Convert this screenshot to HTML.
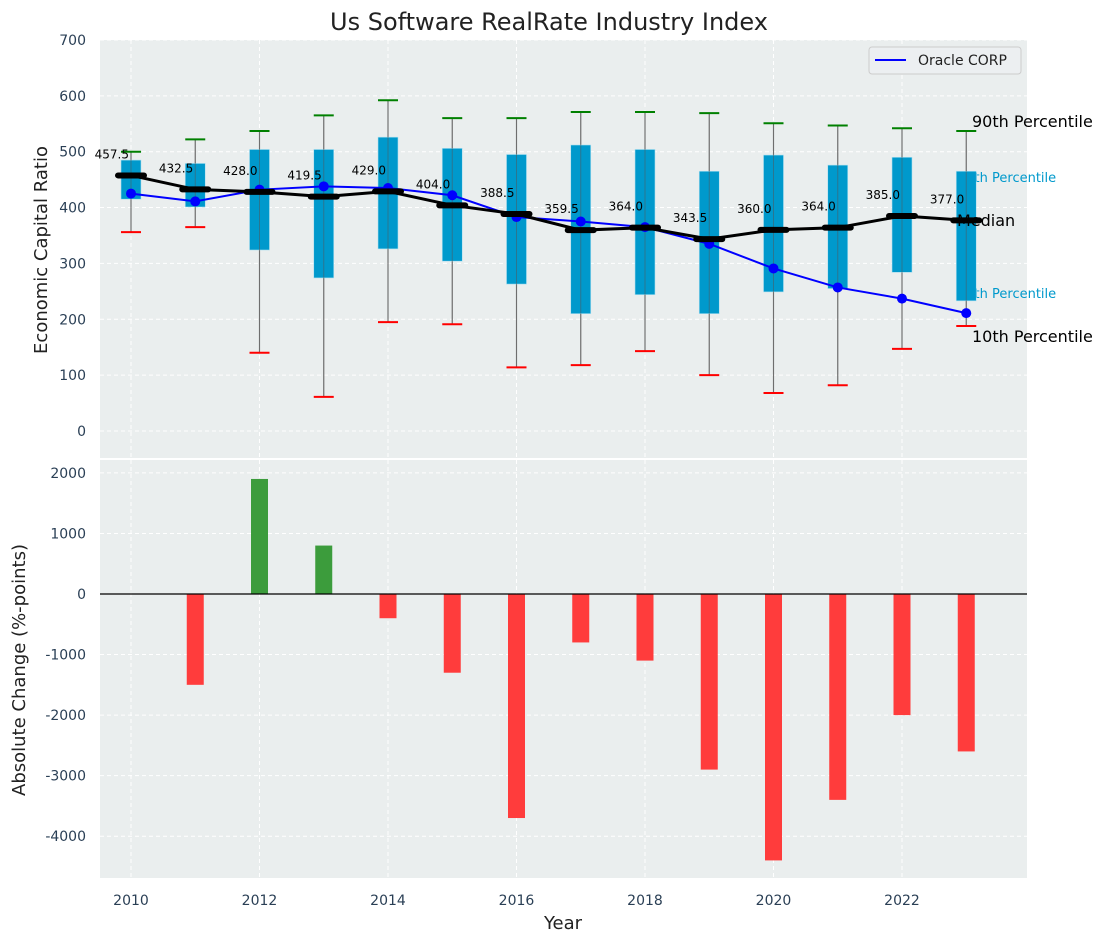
<!DOCTYPE html>
<html><head><meta charset="utf-8"><style>
body{margin:0;background:#fff}
svg{display:block;font-family:"DejaVu Sans","Liberation Sans",sans-serif}
</style></head><body>
<svg id="chart" width="1107" height="942"></svg>
<script>
const years=[2010,2011,2012,2013,2014,2015,2016,2017,2018,2019,2020,2021,2022,2023];
const p90=[500,522,537,565,592,560,560,571,571,569,551,547,542,537];
const p75=[485,479,504,504,526,506,495,512,504,465,494,476,490,465];
const medians=[457.5,432.5,428.0,419.5,429.0,404.0,388.5,359.5,364.0,343.5,360.0,364.0,385.0,377.0];
const p25=[415,401,324,274,326,304,263,210,244,210,249,255,284,233];
const p10=[356,365,140,61,195,191,114,118,143,100,68,82,147,188];
const oracle=[425,411,432,438,435,422,383,375,365,335,291,257,237,211];
const changes=[0,-1500,1900,800,-400,-1300,-3700,-800,-1100,-2900,-4400,-3400,-2000,-2600];
const topTicks=[0,100,200,300,400,500,600,700];
const botTicks=[-4000,-3000,-2000,-1000,0,1000,2000];
const xTicks=[2010,2012,2014,2016,2018,2020,2022];

const NS="http://www.w3.org/2000/svg";
const svg=document.getElementById('chart');
function mk(tag,attrs,parent,name,inter){const e=document.createElementNS(NS,tag);for(const k in attrs)e.setAttribute(k,attrs[k]);(parent||svg).appendChild(e);


return e;}
const L=100,R=1027;
const x=y=>131+(y-2010)*64.25;
const yt=v=>431-v*0.5586;
const yb=v=>594-v*0.06055;
const TT=40,TB=458,BT=460,BB=878;

mk('rect',{x:L,y:TT,width:R-L,height:TB-TT,fill:'#eaeeee'},svg,'top-plot-area');
mk('rect',{x:L,y:BT,width:R-L,height:BB-BT,fill:'#eaeeee'},svg,'bottom-plot-area');
xTicks.forEach(t=>{[[TT,TB],[BT,BB]].forEach(([a,b])=>mk('line',{x1:x(t),x2:x(t),y1:a,y2:b,stroke:'#fff','stroke-dasharray':'4,3','stroke-width':1},svg,'x-grid-line'));});
topTicks.forEach(t=>{mk('line',{x1:L,x2:R,y1:yt(t),y2:yt(t),stroke:'#fff','stroke-dasharray':'4,3'},svg,'y-grid-line');
 const tx=mk('text',{x:86,y:yt(t)+5,'text-anchor':'end','font-size':14,fill:'#2a3f55'},svg,'y-tick-label');tx.textContent=t;});
botTicks.forEach(t=>{mk('line',{x1:L,x2:R,y1:yb(t),y2:yb(t),stroke:'#fff','stroke-dasharray':'4,3'},svg,'y2-grid-line');
 const tx=mk('text',{x:86,y:yb(t)+5,'text-anchor':'end','font-size':14,fill:'#2a3f55'},svg,'y2-tick-label');tx.textContent=t;});
xTicks.forEach(t=>{const tx=mk('text',{x:x(t),y:905,'text-anchor':'middle','font-size':14,fill:'#2a3f55'},svg,'x-tick-label');tx.textContent=t;});

[['75th Percentile',182,'p75-annotation'],['25th Percentile',298,'p25-annotation']].forEach(a=>{const t=mk('text',{x:958,y:a[1],'font-size':13,fill:'#0099cc'},svg,a[2]);t.textContent=a[0];});

years.forEach((yr,i)=>{const cx=x(yr);
 mk('line',{x1:cx,x2:cx,y1:yt(p90[i]),y2:yt(p10[i]),stroke:'#888','stroke-width':1.2},svg,'whisker');
 mk('rect',{x:cx-10,y:yt(p75[i]),width:20,height:yt(p25[i])-yt(p75[i]),fill:'#0099cc',stroke:'#aee0f0','stroke-width':0.6},svg,'iqr-box');
 mk('line',{x1:cx,x2:cx,y1:yt(p90[i]),y2:yt(p10[i]),stroke:'#555','stroke-width':1,opacity:0.5},svg,'whisker-inner');
 mk('line',{x1:cx-10,x2:cx+10,y1:yt(p90[i]),y2:yt(p90[i]),stroke:'green','stroke-width':2},svg,'p90-cap');
 mk('line',{x1:cx-10,x2:cx+10,y1:yt(p10[i]),y2:yt(p10[i]),stroke:'red','stroke-width':2},svg,'p10-cap');
});
mk('polyline',{points:years.map((yr,i)=>x(yr)+','+yt(oracle[i])).join(' '),fill:'none',stroke:'blue','stroke-width':2},svg,'oracle-line');
years.forEach((yr,i)=>mk('circle',{cx:x(yr),cy:yt(oracle[i]),r:5,fill:'blue'},svg,'oracle-point'));
mk('polyline',{points:years.map((yr,i)=>x(yr)+','+yt(medians[i])).join(' '),fill:'none',stroke:'#000','stroke-width':3},svg,'median-line');
years.forEach((yr,i)=>{mk('line',{x1:x(yr)-13,x2:x(yr)+13,y1:yt(medians[i]),y2:yt(medians[i]),stroke:'#000','stroke-width':6,'stroke-linecap':'round'},svg,'median-marker');
 const t=mk('text',{x:x(yr)-2,y:yt(medians[i])-17,'text-anchor':'end','font-size':12,fill:'#000'},svg,'median-label');t.textContent=medians[i].toFixed(1);});
[['90th Percentile',127,'90th-annotation'],['Median',226,'median-annotation'],['10th Percentile',342,'10th-annotation']].forEach(a=>{const t=mk('text',{x:a[0]=='Median'?957:972,y:a[1],'font-size':16,fill:'#000'},svg,a[2]);t.textContent=a[0];});

mk('rect',{x:869,y:47,width:152,height:27,rx:3,fill:'#eceff1',stroke:'#ccc'},svg,'legend-box');
mk('line',{x1:875,x2:906,y1:60,y2:60,stroke:'blue','stroke-width':2},svg,'legend-line');
const lt=mk('text',{x:918,y:65,'font-size':14,fill:'#222'},svg,'legend-label');lt.textContent='Oracle CORP';

years.forEach((yr,i)=>{const v=changes[i];if(!v)return;const a=yb(Math.max(v,0)),b=yb(Math.min(v,0));
 mk('rect',{x:x(yr)-8.5,y:a,width:17,height:b-a,fill:v>0?'#3c9c3c':'#ff3c3c'},svg,'change-bar');});
mk('line',{x1:L,x2:R,y1:yb(0),y2:yb(0),stroke:'#000','stroke-width':1.2},svg,'zero-line');

let t=mk('text',{x:549,y:30,'text-anchor':'middle','font-size':24,fill:'#222'},svg,'chart-title');t.textContent='Us Software RealRate Industry Index';
t=mk('text',{x:563,y:929,'text-anchor':'middle','font-size':18,fill:'#222'},svg,'x-axis-title');t.textContent='Year';
t=mk('text',{x:0,y:0,'text-anchor':'middle','font-size':18,fill:'#222',transform:'translate(47,250) rotate(-90)'},svg,'y-axis-title');t.textContent='Economic Capital Ratio';
t=mk('text',{x:0,y:0,'text-anchor':'middle','font-size':18,fill:'#222',transform:'translate(25,670) rotate(-90)'},svg,'y2-axis-title');t.textContent='Absolute Change (%-points)';
</script>
</body></html>
